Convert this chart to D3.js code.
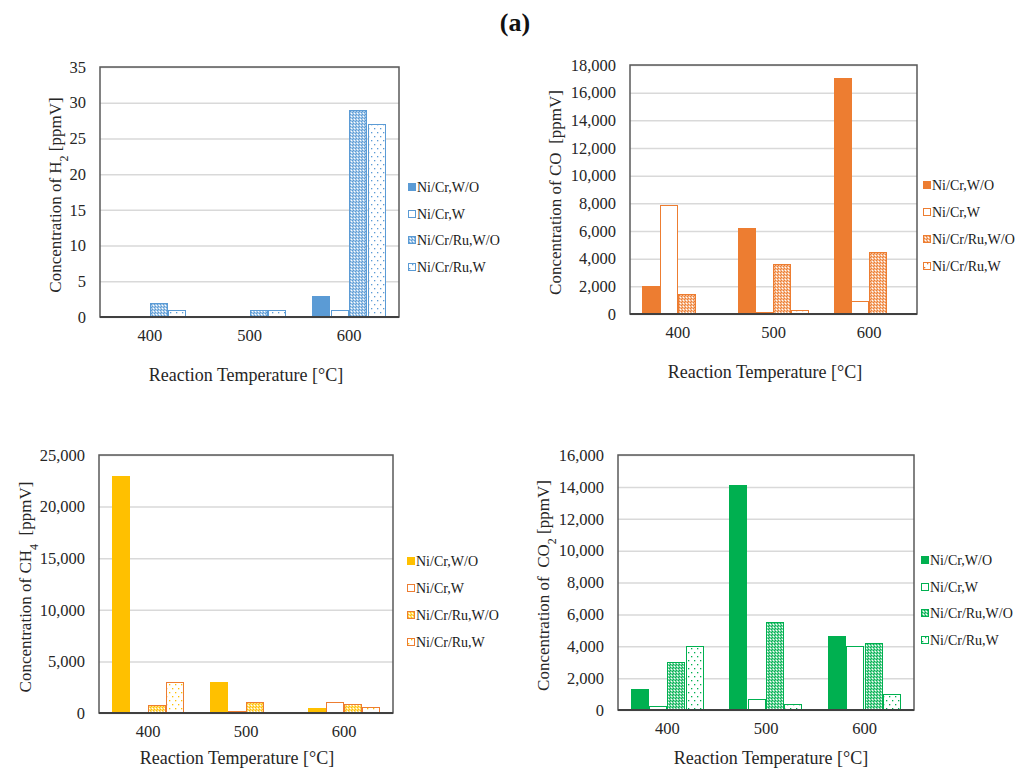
<!DOCTYPE html>
<html>
<head>
<meta charset="utf-8">
<script src="https://cdn.jsdelivr.net/npm/d3@7"></script>
<style>
  html, body { margin: 0; padding: 0; background: #fff; }
  svg { display: block; }
  svg text { font-family: "Times New Roman", "Liberation Serif", "DejaVu Serif", serif !important; fill: #262626; }
</style>
</head>
<body>
<svg id="chart" width="1030" height="771"></svg>
<script>
// Reaction temperatures (categories) and catalyst conditions (series)
const temperatures = ["400", "500", "600"];
const seriesNames = ["Ni/Cr,W/O", "Ni/Cr,W", "Ni/Cr/Ru,W/O", "Ni/Cr/Ru,W"];

// H2 concentration [ppmV]
const h2NiCrWO   = [0, 0, 3];
const h2NiCrW    = [0, 0, 1];
const h2NiCrRuWO = [2, 1, 29];
const h2NiCrRuW  = [1, 1, 27];
const h2Ticks    = [0, 5, 10, 15, 20, 25, 30, 35];

// CO concentration [ppmV]
const coNiCrWO   = [2000, 6200, 17050];
const coNiCrW    = [7850, 180, 950];
const coNiCrRuWO = [1450, 3650, 4500];
const coNiCrRuW  = [100, 280, 100];
const coTicks    = [0, 2000, 4000, 6000, 8000, 10000, 12000, 14000, 16000, 18000];

// CH4 concentration [ppmV]
const ch4NiCrWO   = [23000, 3000, 450];
const ch4NiCrW    = [0, 150, 1050];
const ch4NiCrRuWO = [800, 1050, 900];
const ch4NiCrRuW  = [3000, 0, 550];
const ch4Ticks    = [0, 5000, 10000, 15000, 20000, 25000];

// CO2 concentration [ppmV]
const co2NiCrWO   = [1300, 14100, 4650];
const co2NiCrW    = [250, 700, 4000];
const co2NiCrRuWO = [3000, 5500, 4200];
const co2NiCrRuW  = [4000, 400, 1000];
const co2Ticks    = [0, 2000, 4000, 6000, 8000, 10000, 12000, 14000, 16000];

const svg = d3.select("#chart");
const defs = svg.append("defs");

// Fill patterns: a fine tinted dot screen and a sparse dotted fill
function makePatterns(key, color) {
  const tint = d3.interpolateRgb(color, "#ffffff")(0.45);
  const dense = defs.append("pattern")
    .attr("id", `dense-${key}`).attr("patternUnits", "userSpaceOnUse")
    .attr("width", 3).attr("height", 3);
  dense.append("rect").attr("width", 3).attr("height", 3).attr("fill", tint);
  dense.append("rect").attr("x", 0).attr("y", 0).attr("width", 1).attr("height", 1).attr("fill", color);
  dense.append("rect").attr("x", 2).attr("y", 1).attr("width", 1).attr("height", 1).attr("fill", "#fff");
  dense.append("rect").attr("x", 1).attr("y", 2).attr("width", 1).attr("height", 1).attr("fill", color);

  const dots = defs.append("pattern")
    .attr("id", `dots-${key}`).attr("patternUnits", "userSpaceOnUse")
    .attr("width", 6).attr("height", 8);
  dots.append("rect").attr("width", 6).attr("height", 8).attr("fill", "#fff");
  dots.append("rect").attr("x", 1).attr("y", 1).attr("width", 1.3).attr("height", 1.3).attr("fill", color);
  dots.append("rect").attr("x", 4).attr("y", 5).attr("width", 1.3).attr("height", 1.3).attr("fill", color);
}

const panels = [
  {
    key: "h2", left: 100, top: 67, right: 399, bottom: 317,
    values: [h2NiCrWO, h2NiCrW, h2NiCrRuWO, h2NiCrRuW], ticks: h2Ticks,
    format: d3.format("d"), fill: "#5B9BD5", stroke: "#5B9BD5",
    yTitle: [["Concentration of H", false], ["2", true], [" [ppmV]", false]], yTitleX: 55,
    xTitle: { x: 246, y: 375 }, legend: { x: 408, y: 187, dy: 26.7 }
  },
  {
    key: "co", left: 630, top: 65, right: 917, bottom: 314,
    values: [coNiCrWO, coNiCrW, coNiCrRuWO, coNiCrRuW], ticks: coTicks,
    format: d3.format(","), fill: "#ED7D31", stroke: "#ED7D31",
    yTitle: [["Concentration of CO\u00a0\u00a0[ppmV]", false]], yTitleX: 555,
    xTitle: { x: 765, y: 372 }, legend: { x: 923, y: 185, dy: 27 }
  },
  {
    key: "ch4", left: 99, top: 455, right: 393, bottom: 713,
    values: [ch4NiCrWO, ch4NiCrW, ch4NiCrRuWO, ch4NiCrRuW], ticks: ch4Ticks,
    format: d3.format(","), fill: "#FFC000", stroke: "#ED7D31",
    yTitle: [["Concentration of CH", false], ["4", true], ["\u00a0\u00a0[ppmV]", false]], yTitleX: 25,
    xTitle: { x: 237, y: 758 }, legend: { x: 407, y: 561, dy: 27 }
  },
  {
    key: "co2", left: 618, top: 455, right: 914, bottom: 710,
    values: [co2NiCrWO, co2NiCrW, co2NiCrRuWO, co2NiCrRuW], ticks: co2Ticks,
    format: d3.format(","), fill: "#00B050", stroke: "#00B050",
    yTitle: [["Concentration of\u00a0\u00a0CO", false], ["2", true], [" [ppmV]", false]], yTitleX: 543,
    xTitle: { x: 771, y: 758 }, legend: { x: 921, y: 560, dy: 26.7 }
  }
];

function seriesFill(p, i) {
  if (i === 0) return p.fill;
  if (i === 1) return "#fff";
  if (i === 2) return `url(#dense-${p.key})`;
  return `url(#dots-${p.key})`;
}
function seriesStroke(p, i) {
  return i === 0 ? p.fill : p.stroke;
}

panels.forEach(p => {
  makePatterns(p.key, p.fill);
  const w = p.right - p.left, h = p.bottom - p.top;
  const g = svg.append("g").attr("transform", `translate(${p.left},${p.top})`);

  const x0 = d3.scaleBand().domain(temperatures).range([0, w])
    .paddingInner(0.26).paddingOuter(0.13);
  const x1 = d3.scaleBand().domain(d3.range(seriesNames.length)).range([0, x0.bandwidth()]);
  const y = d3.scaleLinear().domain([0, d3.max(p.ticks)]).range([h, 0]);

  // horizontal gridlines
  g.append("g")
    .call(d3.axisLeft(y).tickValues(p.ticks).tickSize(-w).tickFormat(""))
    .call(a => a.select(".domain").remove())
    .call(a => a.selectAll("line").attr("stroke", "#D9D9D9").attr("stroke-width", 1.5));

  // bars, snapped to whole pixels so the fill patterns stay crisp
  const bars = temperatures.flatMap((t, ti) =>
    p.values.map((s, si) => ({ t, si, v: s[ti] })));
  const bw = Math.round(x1.bandwidth());
  g.append("g").selectAll("rect")
    .data(bars).join("rect")
    .attr("x", d => Math.round(x0(d.t) + x1(d.si)) + 0.5)
    .attr("width", bw - 1)
    .attr("y", d => Math.round(y(d.v)) + 0.5)
    .attr("height", d => Math.max(0, Math.round(y(0)) - Math.round(y(d.v))))
    .attr("fill", d => seriesFill(p, d.si))
    .attr("stroke", d => seriesStroke(p, d.si))
    .attr("stroke-width", 1);

  // plot frame
  g.append("rect").attr("width", w).attr("height", h)
    .attr("fill", "none").attr("stroke", "#595959").attr("stroke-width", 1.5);
  g.append("line").attr("x1", 0).attr("x2", w).attr("y1", h).attr("y2", h)
    .attr("stroke", "#404040").attr("stroke-width", 2);

  // y tick labels
  g.append("g")
    .call(d3.axisLeft(y).tickValues(p.ticks).tickSize(0).tickPadding(14).tickFormat(p.format))
    .call(a => a.select(".domain").remove())
    .call(a => a.selectAll("text").style("font-size", "16.5px"));

  // x tick labels
  g.append("g").attr("transform", `translate(0,${h})`)
    .call(d3.axisBottom(x0).tickSize(0).tickPadding(12))
    .call(a => a.select(".domain").remove())
    .call(a => a.selectAll("text").style("font-size", "16.5px"));

  // axis titles
  svg.append("text")
    .attr("x", p.xTitle.x).attr("y", p.xTitle.y).attr("dy", "0.35em")
    .attr("text-anchor", "middle").style("font-size", "18px")
    .text("Reaction Temperature [\u00b0C]");

  const yt = svg.append("text")
    .attr("transform", `translate(${p.yTitleX},${(p.top + p.bottom) / 2 + 3}) rotate(-90)`)
    .attr("dy", "0.35em").attr("text-anchor", "middle").style("font-size", "17px");
  p.yTitle.forEach(([t, sub]) => {
    const ts = yt.append("tspan").text(t);
    if (sub) ts.attr("baseline-shift", "sub").style("font-size", "12px");
  });

  // legend
  const lg = svg.append("g").attr("transform", `translate(${p.legend.x},${Math.round(p.legend.y)})`);
  seriesNames.forEach((name, i) => {
    const row = lg.append("g").attr("transform", `translate(0,${Math.round(i * p.legend.dy)})`);
    row.append("rect").attr("x", 0.5).attr("y", -3.5).attr("width", 7).attr("height", 7)
      .attr("fill", seriesFill(p, i)).attr("stroke", seriesStroke(p, i)).attr("stroke-width", 1);
    row.append("text").attr("x", 9).attr("dy", "0.35em").style("font-size", "14px")
      .style("fill", "#1a1a1a").text(name);
  });
});

// figure label
svg.append("text").attr("x", 515).attr("y", 22).attr("dy", "0.35em")
  .attr("text-anchor", "middle").style("font-size", "26px").style("font-weight", "bold")
  .style("fill", "#111").text("(a)");
</script>
</body>
</html>
